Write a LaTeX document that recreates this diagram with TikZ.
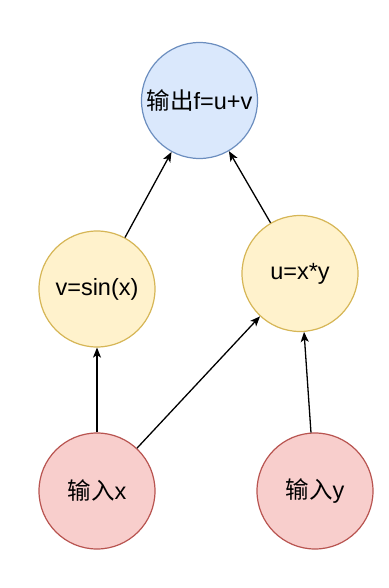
\documentclass[tikz,border=0pt]{standalone}
\usepackage{fontspec}
\setmainfont{Liberation Sans}
\newfontfamily\cjk{Noto Sans CJK SC}
\usetikzlibrary{arrows.meta}
\definecolor{bluefill}{HTML}{DAE8FC}
\definecolor{bluedraw}{HTML}{6C8EBF}
\definecolor{yelfill}{HTML}{FFF2CC}
\definecolor{yeldraw}{HTML}{D6B656}
\definecolor{redfill}{HTML}{F8CECC}
\definecolor{reddraw}{HTML}{B85450}
\tikzset{
  circ/.style={circle, minimum size=116pt, inner sep=0pt, line width=1.2pt, font=\fontsize{23.5}{26}\selectfont},
  bluec/.style={circ, draw=bluedraw, fill=bluefill},
  yelc/.style={circ, draw=yeldraw, fill=yelfill},
  redc/.style={circ, draw=reddraw, fill=redfill},
  conn/.style={line width=1.3pt, -{Stealth[length=10pt,width=8pt,inset=2.5pt]}}
}
\begin{document}
\begin{tikzpicture}[x=1pt,y=-1pt]
\useasboundingbox (0,0) rectangle (388,588);
\node[bluec] (f) at (199.5,100.5) {{\cjk 输出}f=u+v};
\node[yelc] (v) at (97,289) {v=sin(x)};
\node[yelc] (u) at (300,273.5) {u=x*y};
\node[redc] (x) at (97,491) {{\cjk 输入}x};
\node[redc] (y) at (315,491) {{\cjk 输入}y};
\draw[conn] (v) -- (f);
\draw[conn] (u) -- (f);
\draw[conn] (x) -- (v);
\draw[conn] (x) -- (u);
\draw[conn] (y) -- (u);
\end{tikzpicture}
\end{document}
